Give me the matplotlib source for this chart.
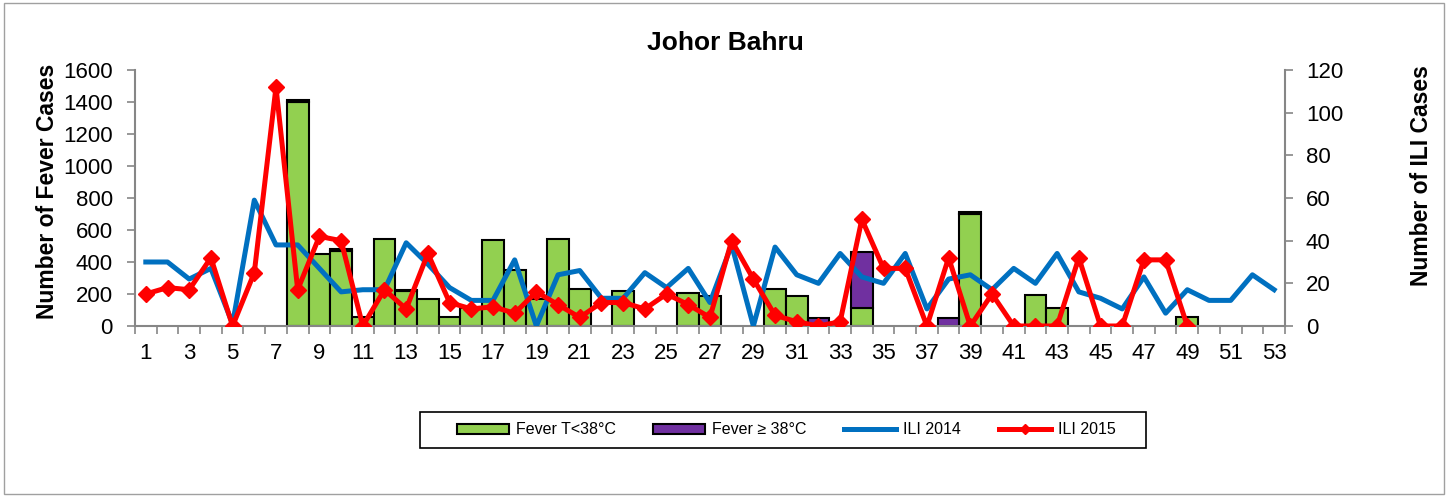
import numpy as np
import matplotlib.pyplot as plt
from matplotlib.patches import Rectangle
from matplotlib.lines import Line2D

plt.rcParams['font.family'] = ['Liberation Sans', 'DejaVu Sans']

weeks = list(range(1, 54))

# Fever cases (bars, stacked)
fever_low = {8: 1400, 9: 450, 10: 470, 11: 58, 12: 545, 13: 220, 14: 170, 15: 55,
             16: 110, 17: 540, 18: 350, 19: 167, 20: 545, 21: 230, 23: 220,
             26: 205, 27: 185, 30: 230, 31: 185, 34: 110, 39: 700, 42: 195,
             43: 115, 49: 55}
fever_high = {8: 15, 10: 12, 13: 8, 32: 48, 34: 355, 38: 48, 39: 12}

ili_2014 = [30, 30, 22, 27, 1, 59, 38, 38, 27, 16, 17, 17, 39, 29, 18,
            12, 12, 31, 0, 24, 26, 13, 13, 25, 18, 27, 11, 38, 0, 37,
            24, 20, 34, 23, 20, 34, 8, 22, 24, 17, 27, 20, 34, 16, 13,
            8, 23, 6, 17, 12, 12, 24, 17]
ili_2015 = [15, 18, 17, 32, 0, 25, 112, 17, 42, 40, 0, 17, 8, 34, 11,
            8, 9, 6, 16, 10, 4, 11, 11, 8, 15, 10, 4, 40, 22, 5,
            2, 0, 2, 50, 27, 27, 0, 32, 0, 15, 0, 0, 0, 32, 0,
            0, 31, 31, 0]

green = [fever_low.get(w, 0) for w in weeks]
purple = [fever_high.get(w, 0) for w in weeks]

GREEN, PURPLE, BLUE, RED = '#92D050', '#7030A0', '#0070C0', '#FF0000'
GRAY = '#868686'

fig = plt.figure(figsize=(14.48, 4.98), dpi=100)
fig.patches.append(Rectangle((0.003, 0.008), 0.994, 0.985, transform=fig.transFigure,
                             fill=False, edgecolor='#a0a0a0', linewidth=1))
ax = fig.add_axes([0.0932, 0.3454, 0.7942, 0.514])
ax2 = ax.twinx()

b1 = ax.bar(weeks, green, width=1.0, color=GREEN, edgecolor='black', linewidth=1.5)
b2 = ax.bar(weeks, purple, width=1.0, bottom=green, color=PURPLE, edgecolor='black',
            linewidth=1.5)
# hide empty bars so their edges do not show on the axis
for rect in list(b1) + list(b2):
    if rect.get_height() == 0:
        rect.set_visible(False)

ax2.plot(weeks, ili_2014, color=BLUE, linewidth=3.6)
ax2.plot(weeks[:len(ili_2015)], ili_2015, color=RED, linewidth=3.6,
         marker='D', markersize=8)

ax.set_xlim(0.5, 53.5)
ax.set_ylim(0, 1600)
ax2.set_ylim(0, 120)
ax.set_yticks(range(0, 1601, 200))
ax2.set_yticks(range(0, 121, 20))
ax.set_xticks(range(1, 54, 2))
ax.set_xticks(np.arange(0.5, 54, 1), minor=True)

for a in (ax, ax2):
    a.spines['top'].set_visible(False)
    for s in ('left', 'right', 'bottom'):
        a.spines[s].set_color(GRAY)
        a.spines[s].set_linewidth(1.5)
ax.spines['right'].set_visible(False)
ax2.spines['left'].set_visible(False)
ax2.spines['bottom'].set_visible(False)

ax.tick_params(axis='x', which='major', length=0, labelsize=16, pad=12)
ax.tick_params(axis='x', which='minor', length=6, color=GRAY, width=1.2)
ax.tick_params(axis='y', length=6, color=GRAY, width=1.2, labelsize=16, pad=10)
ax2.tick_params(axis='y', length=6, color=GRAY, width=1.2, labelsize=16, pad=9)

ax.set_ylabel('Number of Fever Cases', fontsize=16.5, fontweight='bold')
ax.yaxis.set_label_coords(-0.066, 0.527)
ax2.set_ylabel('Number of ILI Cases', fontsize=16.5, fontweight='bold')
ax2.yaxis.set_label_coords(1.1087, 0.586)
fig.text(0.5007, 1 - 43 / 498, 'Johor Bahru', fontsize=19, fontweight='bold',
         ha='center', va='center')

ax2.set_zorder(ax.get_zorder() + 1)
ax2.patch.set_visible(False)

# legend frame (wider than its entries, as in the original)
fig.patches.append(Rectangle((420 / 1448, 1 - 448 / 498), 726 / 1448, 36 / 498,
                             transform=fig.transFigure, fill=False,
                             edgecolor='black', linewidth=1.2))
handles = [Rectangle((0, 0), 1, 1, facecolor=GREEN, edgecolor='black', linewidth=1.5),
           Rectangle((0, 0), 1, 1, facecolor=PURPLE, edgecolor='black', linewidth=1.5),
           Line2D([], [], color=BLUE, linewidth=3.6),
           Line2D([], [], color=RED, linewidth=3.6, marker='D', markersize=5)]
labels = ['Fever T<38°C', 'Fever ≥ 38°C', 'ILI 2014', 'ILI 2015']
fig.legend(handles, labels, loc='center left', bbox_to_anchor=(457 / 1448, 1 - 430 / 498),
           ncol=4, frameon=False, borderpad=0, borderaxespad=0, handlelength=3.25,
           handleheight=0.65, handletextpad=0.44, columnspacing=2.35, fontsize=11.5)

fig.savefig('out.png', dpi=100)
